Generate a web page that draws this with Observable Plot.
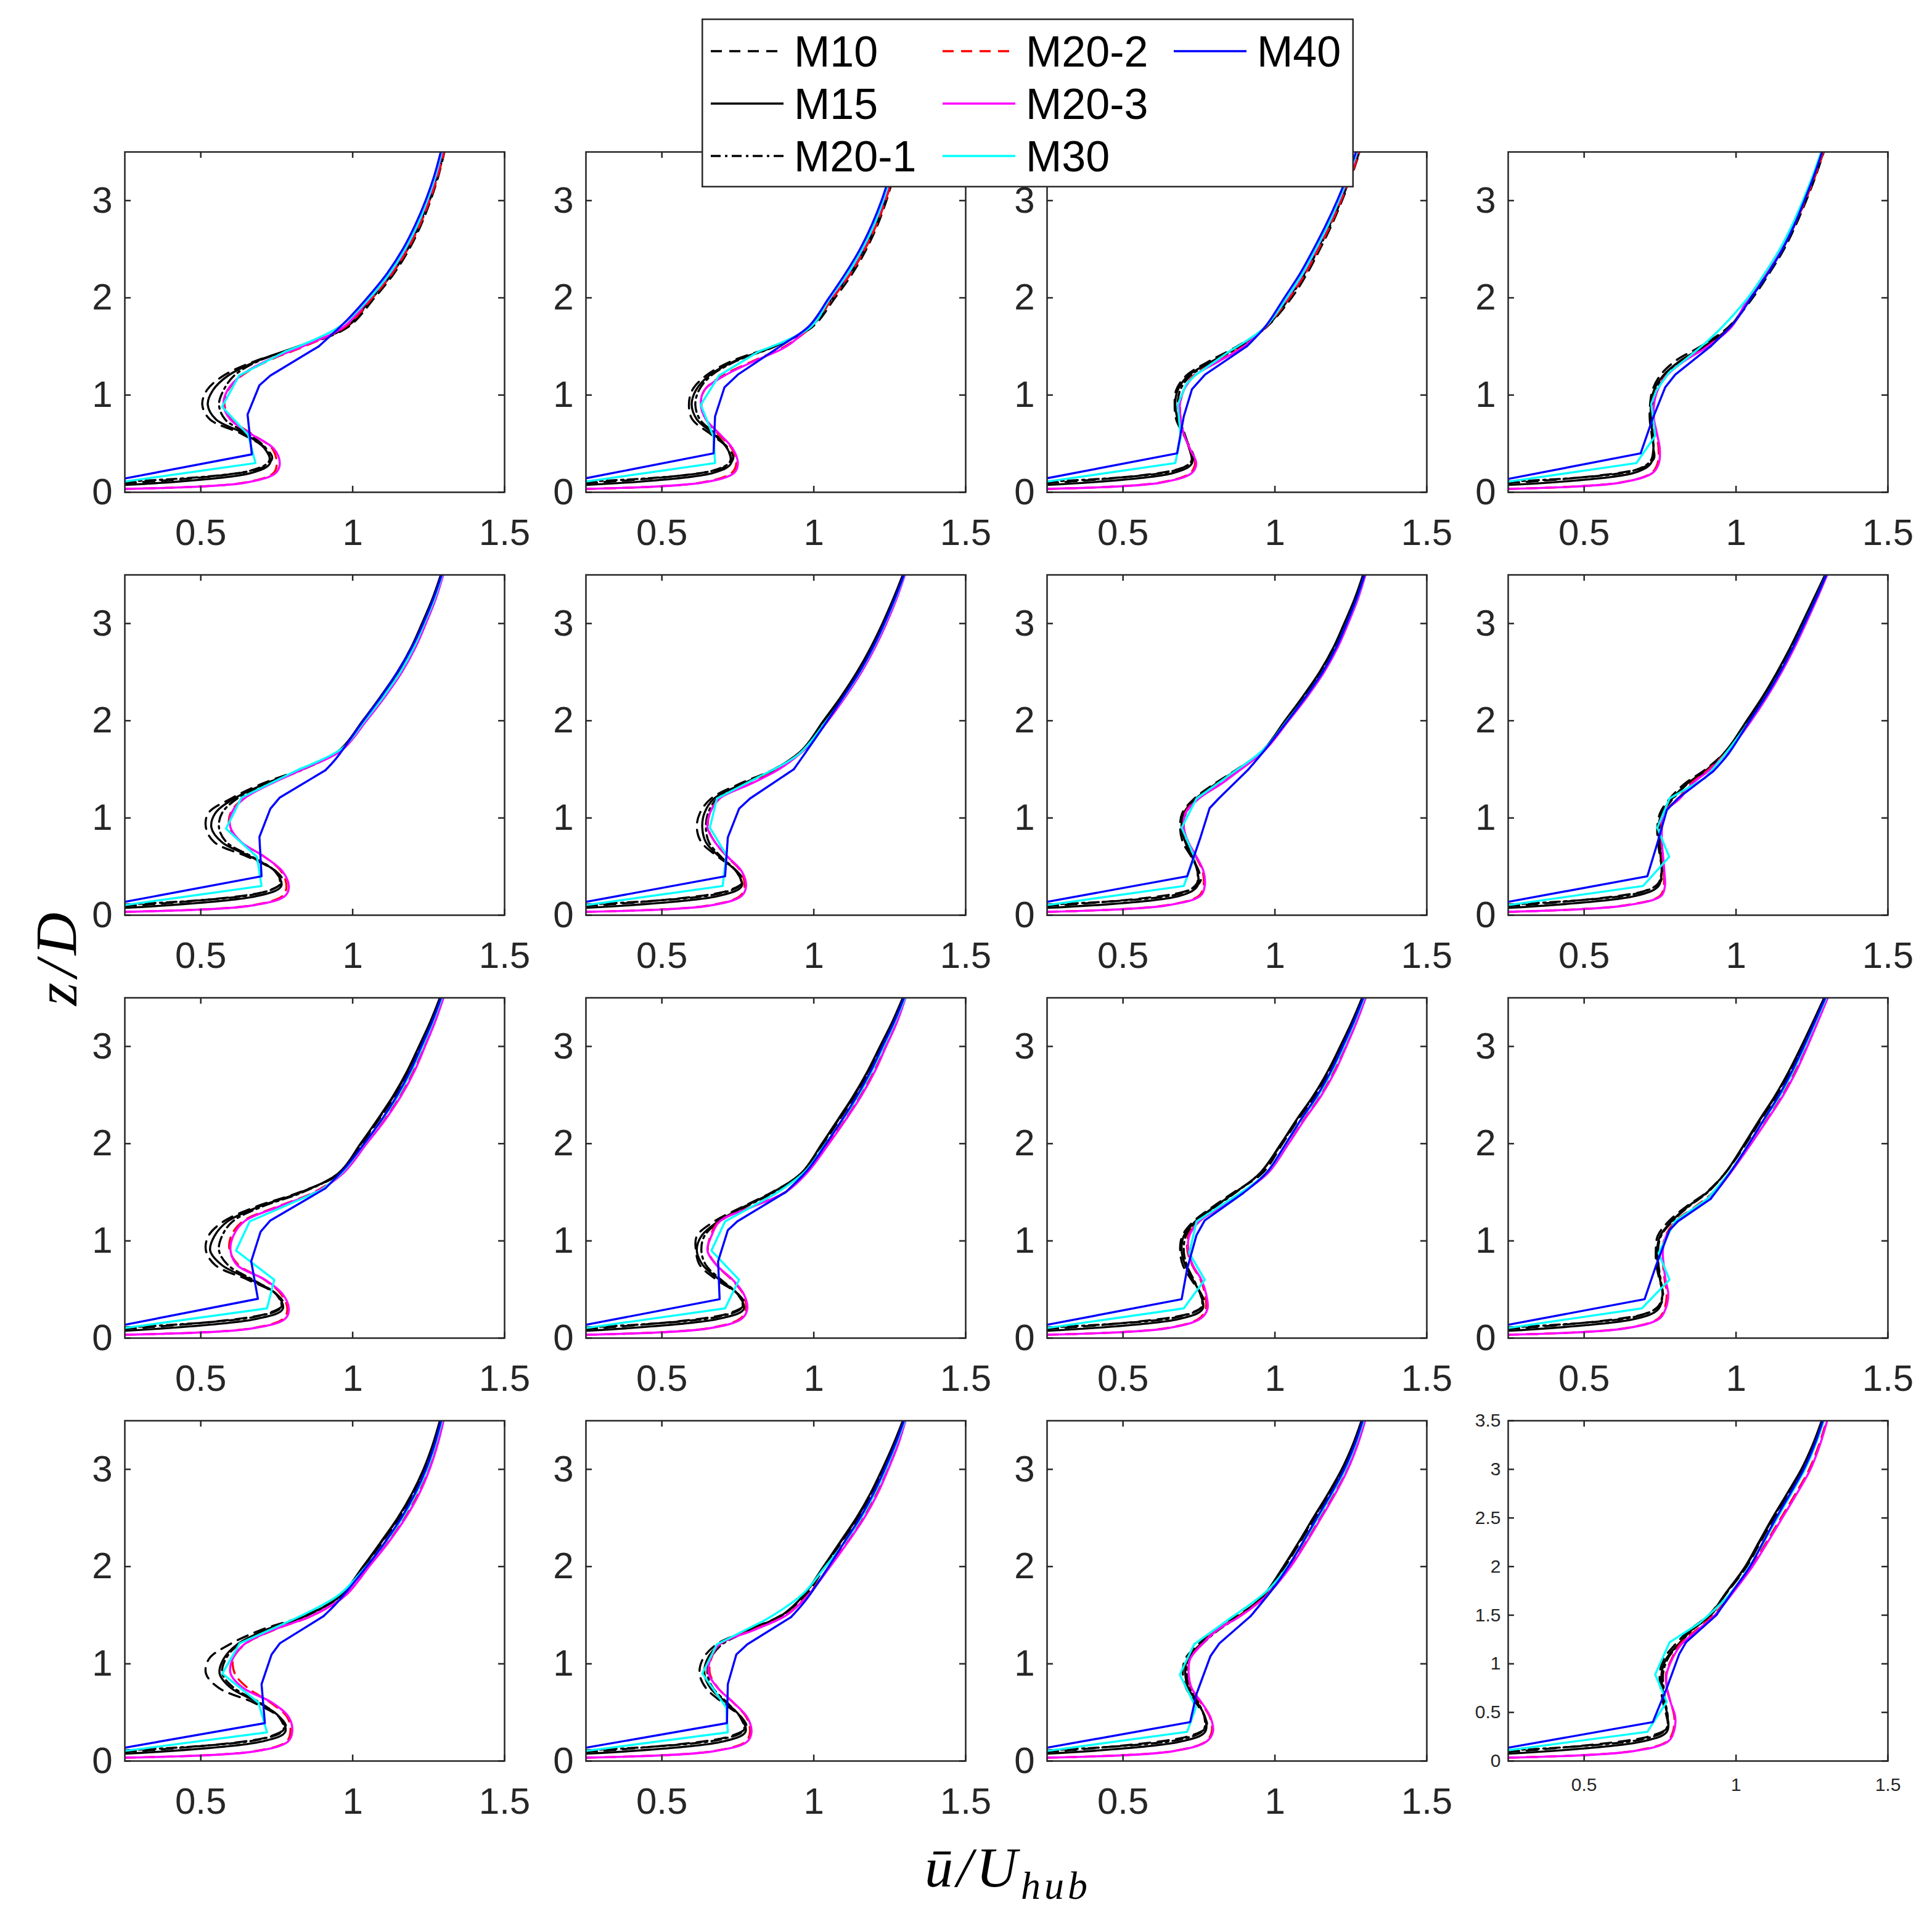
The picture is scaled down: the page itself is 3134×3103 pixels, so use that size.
<!DOCTYPE html>
<html>
<head>
<meta charset="utf-8">
<script src="https://cdn.jsdelivr.net/npm/d3@7"></script>
<script src="https://cdn.jsdelivr.net/npm/@observablehq/plot@0.6"></script>
<style>
  html, body { margin: 0; padding: 0; background: #fff; }
  #fig { position: relative; width: 3134px; height: 3103px; background: #fff; font-family: "Liberation Sans", Arial, Helvetica, sans-serif; }
</style>
</head>
<body>
<div id="fig"></div>
<script>
// ---------------- series definitions ----------------
const seriesNames  = ["M10", "M15", "M20-1", "M20-2", "M20-3", "M30", "M40"];
const seriesColors = ["#000000", "#000000", "#000000", "#ff0000", "#ff00ff", "#00ffff", "#0000ff"];
const seriesDash   = ["18,12", null, "16,7,4,7", "18,12", null, null, null];

// ---------------- axis ticks ----------------
const xDomain = [0.25, 1.5];
const yDomain = [0, 3.5];
const xTicks = [0.5, 1, 1.5];
const yTicks = [0, 1, 2, 3];
const yTicksFine = [0, 0.5, 1, 1.5, 2, 2.5, 3, 3.5];

// ---------------- heights (z/D) ----------------
const zM10  = [0.095, 0.25, 0.35, 0.45, 0.60, 0.75, 0.90, 1.05, 1.20, 1.35, 1.50, 1.70];
const zM15  = [0.075, 0.20, 0.30, 0.45, 0.60, 0.75, 0.90, 1.05, 1.20, 1.35, 1.50, 1.70];
const zM201 = [0.11, 0.22, 0.32, 0.45, 0.60, 0.75, 0.90, 1.05, 1.20, 1.35, 1.50, 1.70];
const zM202 = [0.035, 0.10, 0.20, 0.30, 0.45, 0.60, 0.75, 0.90, 1.05, 1.20, 1.35, 1.50, 1.70];
const zM203 = [0.035, 0.10, 0.20, 0.30, 0.45, 0.60, 0.75, 0.90, 1.05, 1.20, 1.35, 1.50, 1.70];
const zUpper = [2.00, 2.25, 2.50, 2.75, 3.00, 3.25, 3.50];

// ---------------- u/U_hub, lower part (row-major panels) ----------------
const uM10 = [
  [0.25, 0.70, 0.735, 0.715, 0.635, 0.53, 0.505, 0.52, 0.575, 0.68, 0.83, 0.985],
  [0.25, 0.70, 0.735, 0.72, 0.66, 0.60, 0.589, 0.60, 0.645, 0.73, 0.865, 0.995],
  [0.25, 0.695, 0.733, 0.722, 0.698, 0.675, 0.67, 0.675, 0.708, 0.785, 0.875, 0.972],
  [0.25, 0.69, 0.73, 0.728, 0.722, 0.716, 0.717, 0.725, 0.75, 0.80, 0.883, 0.975],
  [0.25, 0.72, 0.77, 0.748, 0.655, 0.545, 0.517, 0.525, 0.60, 0.70, 0.83, 0.962],
  [0.25, 0.715, 0.768, 0.748, 0.685, 0.63, 0.615, 0.625, 0.662, 0.755, 0.868, 0.968],
  [0.25, 0.71, 0.755, 0.75, 0.725, 0.697, 0.688, 0.695, 0.735, 0.80, 0.875, 0.965],
  [0.25, 0.70, 0.752, 0.757, 0.75, 0.743, 0.741, 0.75, 0.782, 0.83, 0.90, 0.97],
  [0.25, 0.715, 0.772, 0.75, 0.655, 0.548, 0.517, 0.525, 0.575, 0.68, 0.825, 0.962],
  [0.25, 0.715, 0.772, 0.752, 0.68, 0.625, 0.612, 0.615, 0.672, 0.765, 0.862, 0.965],
  [0.25, 0.715, 0.768, 0.758, 0.725, 0.697, 0.688, 0.695, 0.732, 0.795, 0.865, 0.96],
  [0.25, 0.70, 0.752, 0.76, 0.748, 0.738, 0.736, 0.742, 0.778, 0.835, 0.903, 0.965],
  [0.25, 0.725, 0.78, 0.76, 0.675, 0.56, 0.517, 0.527, 0.595, 0.70, 0.845, 0.962],
  [0.25, 0.72, 0.778, 0.762, 0.70, 0.645, 0.624, 0.635, 0.68, 0.785, 0.893, 0.972],
  [0.25, 0.71, 0.775, 0.77, 0.74, 0.708, 0.697, 0.705, 0.748, 0.805, 0.88, 0.965],
  [0.25, 0.71, 0.776, 0.772, 0.76, 0.752, 0.749, 0.762, 0.80, 0.848, 0.91, 0.962]
];
const uM15 = [
  [0.25, 0.668, 0.728, 0.71, 0.645, 0.55, 0.523, 0.54, 0.59, 0.685, 0.82, 0.98],
  [0.25, 0.67, 0.728, 0.715, 0.67, 0.615, 0.598, 0.612, 0.655, 0.74, 0.87, 0.99],
  [0.25, 0.668, 0.727, 0.718, 0.70, 0.68, 0.672, 0.68, 0.715, 0.795, 0.88, 0.97],
  [0.25, 0.665, 0.72, 0.728, 0.725, 0.72, 0.72, 0.73, 0.76, 0.815, 0.895, 0.98],
  [0.25, 0.69, 0.765, 0.745, 0.665, 0.57, 0.535, 0.548, 0.61, 0.71, 0.835, 0.958],
  [0.25, 0.69, 0.763, 0.745, 0.69, 0.645, 0.633, 0.64, 0.672, 0.765, 0.87, 0.962],
  [0.25, 0.688, 0.745, 0.745, 0.728, 0.705, 0.693, 0.70, 0.74, 0.805, 0.877, 0.962],
  [0.25, 0.672, 0.745, 0.755, 0.752, 0.748, 0.745, 0.755, 0.79, 0.838, 0.905, 0.97],
  [0.25, 0.688, 0.77, 0.75, 0.665, 0.57, 0.531, 0.545, 0.588, 0.69, 0.83, 0.955],
  [0.25, 0.69, 0.77, 0.75, 0.69, 0.635, 0.615, 0.63, 0.685, 0.77, 0.865, 0.96],
  [0.25, 0.69, 0.762, 0.755, 0.73, 0.705, 0.693, 0.70, 0.738, 0.80, 0.87, 0.952],
  [0.25, 0.672, 0.745, 0.758, 0.75, 0.743, 0.74, 0.75, 0.787, 0.84, 0.905, 0.965],
  [0.25, 0.70, 0.778, 0.76, 0.69, 0.60, 0.562, 0.575, 0.62, 0.715, 0.85, 0.96],
  [0.25, 0.70, 0.775, 0.76, 0.712, 0.66, 0.64, 0.65, 0.69, 0.79, 0.895, 0.965],
  [0.25, 0.69, 0.77, 0.77, 0.745, 0.715, 0.705, 0.712, 0.755, 0.81, 0.885, 0.962],
  [0.25, 0.69, 0.772, 0.775, 0.765, 0.758, 0.755, 0.77, 0.81, 0.855, 0.915, 0.96]
];
const uM201 = [
  [0.25, 0.66, 0.725, 0.715, 0.655, 0.58, 0.56, 0.575, 0.61, 0.69, 0.825, 0.98],
  [0.25, 0.665, 0.725, 0.715, 0.675, 0.625, 0.61, 0.622, 0.662, 0.745, 0.872, 0.99],
  [0.25, 0.665, 0.725, 0.718, 0.703, 0.685, 0.68, 0.688, 0.722, 0.80, 0.885, 0.972],
  [0.25, 0.66, 0.718, 0.728, 0.726, 0.722, 0.724, 0.735, 0.765, 0.82, 0.898, 0.98],
  [0.25, 0.685, 0.76, 0.745, 0.67, 0.585, 0.56, 0.57, 0.62, 0.715, 0.837, 0.958],
  [0.25, 0.685, 0.76, 0.745, 0.695, 0.655, 0.645, 0.652, 0.682, 0.77, 0.872, 0.962],
  [0.25, 0.685, 0.742, 0.745, 0.73, 0.71, 0.70, 0.707, 0.745, 0.808, 0.88, 0.962],
  [0.25, 0.668, 0.742, 0.755, 0.754, 0.75, 0.748, 0.758, 0.793, 0.84, 0.907, 0.97],
  [0.25, 0.68, 0.765, 0.748, 0.672, 0.59, 0.56, 0.57, 0.605, 0.70, 0.835, 0.955],
  [0.25, 0.685, 0.765, 0.75, 0.695, 0.645, 0.63, 0.64, 0.69, 0.775, 0.868, 0.96],
  [0.25, 0.685, 0.758, 0.755, 0.733, 0.71, 0.70, 0.707, 0.742, 0.803, 0.872, 0.952],
  [0.25, 0.668, 0.742, 0.758, 0.752, 0.745, 0.743, 0.753, 0.79, 0.843, 0.907, 0.965],
  [0.25, 0.69, 0.772, 0.758, 0.695, 0.61, 0.571, 0.582, 0.625, 0.718, 0.852, 0.96],
  [0.25, 0.69, 0.77, 0.758, 0.715, 0.668, 0.65, 0.66, 0.698, 0.795, 0.897, 0.965],
  [0.25, 0.685, 0.765, 0.768, 0.748, 0.72, 0.71, 0.718, 0.76, 0.815, 0.888, 0.962],
  [0.25, 0.685, 0.768, 0.775, 0.768, 0.762, 0.76, 0.775, 0.812, 0.857, 0.917, 0.962]
];
const uM202 = [
  [0.25, 0.645, 0.74, 0.75, 0.735, 0.668, 0.60, 0.578, 0.59, 0.635, 0.72, 0.84, 0.975],
  [0.25, 0.63, 0.73, 0.745, 0.73, 0.685, 0.645, 0.63, 0.64, 0.70, 0.80, 0.905, 0.99],
  [0.25, 0.622, 0.722, 0.737, 0.72, 0.70, 0.69, 0.688, 0.70, 0.732, 0.812, 0.895, 0.97],
  [0.25, 0.618, 0.722, 0.742, 0.745, 0.738, 0.73, 0.728, 0.74, 0.77, 0.828, 0.905, 0.982],
  [0.25, 0.665, 0.77, 0.782, 0.765, 0.71, 0.632, 0.595, 0.598, 0.64, 0.727, 0.832, 0.962],
  [0.25, 0.655, 0.758, 0.772, 0.76, 0.715, 0.675, 0.652, 0.658, 0.69, 0.79, 0.88, 0.965],
  [0.25, 0.638, 0.75, 0.765, 0.762, 0.74, 0.715, 0.70, 0.705, 0.745, 0.82, 0.885, 0.967],
  [0.25, 0.632, 0.75, 0.762, 0.762, 0.758, 0.755, 0.754, 0.76, 0.81, 0.85, 0.91, 0.975],
  [0.25, 0.665, 0.772, 0.785, 0.765, 0.71, 0.625, 0.595, 0.60, 0.638, 0.75, 0.873, 0.967],
  [0.25, 0.65, 0.758, 0.777, 0.768, 0.73, 0.68, 0.652, 0.66, 0.688, 0.795, 0.905, 0.975],
  [0.25, 0.638, 0.75, 0.772, 0.77, 0.755, 0.728, 0.712, 0.715, 0.748, 0.82, 0.892, 0.975],
  [0.25, 0.632, 0.744, 0.764, 0.772, 0.765, 0.76, 0.757, 0.768, 0.80, 0.865, 0.925, 0.98],
  [0.25, 0.675, 0.782, 0.795, 0.785, 0.73, 0.655, 0.612, 0.607, 0.645, 0.742, 0.87, 0.975],
  [0.25, 0.665, 0.776, 0.79, 0.778, 0.735, 0.685, 0.658, 0.662, 0.69, 0.80, 0.908, 0.978],
  [0.25, 0.66, 0.772, 0.792, 0.786, 0.756, 0.724, 0.716, 0.72, 0.758, 0.81, 0.888, 0.97],
  [0.25, 0.655, 0.772, 0.792, 0.797, 0.785, 0.773, 0.77, 0.788, 0.815, 0.87, 0.925, 0.98]
];
const uM203 = [
  [0.25, 0.65, 0.747, 0.76, 0.74, 0.665, 0.597, 0.575, 0.588, 0.632, 0.715, 0.835, 0.97],
  [0.25, 0.634, 0.738, 0.75, 0.733, 0.69, 0.645, 0.628, 0.64, 0.706, 0.805, 0.91, 0.985],
  [0.25, 0.627, 0.727, 0.741, 0.72, 0.70, 0.69, 0.687, 0.70, 0.736, 0.817, 0.898, 0.968],
  [0.25, 0.622, 0.726, 0.746, 0.749, 0.74, 0.73, 0.73, 0.742, 0.772, 0.83, 0.907, 0.985],
  [0.25, 0.67, 0.778, 0.79, 0.769, 0.71, 0.634, 0.598, 0.601, 0.643, 0.73, 0.835, 0.965],
  [0.25, 0.66, 0.763, 0.777, 0.763, 0.717, 0.675, 0.65, 0.658, 0.69, 0.792, 0.885, 0.968],
  [0.25, 0.643, 0.755, 0.769, 0.765, 0.742, 0.715, 0.70, 0.706, 0.75, 0.823, 0.888, 0.968],
  [0.25, 0.636, 0.754, 0.766, 0.764, 0.76, 0.756, 0.756, 0.762, 0.815, 0.855, 0.915, 0.978],
  [0.25, 0.67, 0.778, 0.79, 0.77, 0.712, 0.62, 0.598, 0.607, 0.643, 0.755, 0.877, 0.97],
  [0.25, 0.654, 0.763, 0.781, 0.77, 0.733, 0.68, 0.65, 0.663, 0.69, 0.797, 0.907, 0.978],
  [0.25, 0.643, 0.755, 0.778, 0.774, 0.758, 0.73, 0.715, 0.718, 0.751, 0.823, 0.895, 0.978],
  [0.25, 0.636, 0.748, 0.768, 0.777, 0.768, 0.762, 0.759, 0.77, 0.808, 0.87, 0.93, 0.982],
  [0.25, 0.679, 0.787, 0.801, 0.79, 0.735, 0.64, 0.598, 0.605, 0.643, 0.74, 0.87, 0.975],
  [0.25, 0.669, 0.781, 0.795, 0.781, 0.736, 0.684, 0.654, 0.66, 0.69, 0.805, 0.91, 0.98],
  [0.25, 0.663, 0.775, 0.796, 0.788, 0.759, 0.726, 0.716, 0.721, 0.76, 0.812, 0.891, 0.972],
  [0.25, 0.659, 0.776, 0.795, 0.80, 0.785, 0.772, 0.772, 0.79, 0.82, 0.875, 0.93, 0.982]
];

// ---------------- coarse profiles (lower vertices per panel) ----------------
const zM30 = [
  [0.11, 0.30, 0.59, 0.88, 1.20, 1.45, 1.70],
  [0.11, 0.30, 0.57, 0.90, 1.20, 1.45, 1.70],
  [0.11, 0.30, 0.57, 0.90, 1.11, 1.20, 1.45, 1.70],
  [0.109, 0.30, 0.58, 0.91, 1.05, 1.23, 1.61],
  [0.104, 0.30, 0.60, 0.89, 1.21, 1.50, 1.72],
  [0.104, 0.30, 0.62, 0.90, 1.20, 1.42, 1.66],
  [0.104, 0.30, 0.60, 0.90, 1.20, 1.50, 1.72],
  [0.104, 0.30, 0.60, 0.90, 1.20, 1.41, 1.70],
  [0.104, 0.306, 0.60, 0.90, 1.20, 1.52, 1.71],
  [0.104, 0.306, 0.60, 0.90, 1.20, 1.48, 1.71],
  [0.104, 0.306, 0.60, 0.875, 1.20, 1.50, 1.71],
  [0.104, 0.306, 0.60, 0.875, 1.20, 1.43, 1.71],
  [0.104, 0.295, 0.60, 0.90, 1.21, 1.45, 1.71],
  [0.104, 0.295, 0.55, 0.90, 1.20, 1.45, 1.71],
  [0.104, 0.30, 0.55, 0.89, 1.20, 1.48, 1.75],
  [0.111, 0.30, 0.61, 0.89, 1.22, 1.42, 1.70]
];
const uM30 = [
  [0.25, 0.68, 0.656, 0.57, 0.626, 0.78, 0.955],
  [0.25, 0.675, 0.67, 0.628, 0.688, 0.82, 0.99],
  [0.25, 0.672, 0.69, 0.68, 0.708, 0.736, 0.85, 0.968],
  [0.25, 0.672, 0.734, 0.721, 0.738, 0.779, 0.925],
  [0.25, 0.70, 0.685, 0.583, 0.634, 0.823, 0.967],
  [0.25, 0.70, 0.712, 0.658, 0.681, 0.817, 0.952],
  [0.25, 0.70, 0.735, 0.693, 0.742, 0.877, 0.968],
  [0.25, 0.694, 0.78, 0.741, 0.781, 0.898, 0.975],
  [0.25, 0.718, 0.742, 0.616, 0.661, 0.895, 0.967],
  [0.25, 0.708, 0.754, 0.663, 0.708, 0.871, 0.97],
  [0.25, 0.70, 0.769, 0.718, 0.742, 0.89, 0.975],
  [0.25, 0.69, 0.781, 0.745, 0.799, 0.905, 0.98],
  [0.25, 0.718, 0.69, 0.571, 0.628, 0.80, 0.955],
  [0.25, 0.717, 0.712, 0.633, 0.681, 0.84, 0.961],
  [0.25, 0.711, 0.74, 0.687, 0.734, 0.858, 0.974],
  [0.25, 0.708, 0.772, 0.734, 0.781, 0.88, 0.975]
];
const zM40 = [
  [0.142, 0.39, 0.80, 1.10, 1.20, 1.50, 1.77],
  [0.144, 0.40, 0.78, 1.08, 1.21, 1.55, 1.71],
  [0.144, 0.40, 0.78, 1.06, 1.21, 1.50, 1.71],
  [0.137, 0.40, 0.76, 1.08, 1.21, 1.50, 1.75],
  [0.137, 0.40, 0.805, 1.095, 1.21, 1.49, 1.61],
  [0.137, 0.40, 0.80, 1.095, 1.20, 1.50, 1.66],
  [0.137, 0.40, 0.80, 1.10, 1.20, 1.50, 1.70],
  [0.137, 0.40, 0.74, 1.08, 1.20, 1.48, 1.66],
  [0.137, 0.404, 0.79, 1.095, 1.21, 1.54, 1.75],
  [0.137, 0.40, 0.79, 1.11, 1.20, 1.50, 1.73],
  [0.137, 0.40, 0.71, 1.06, 1.21, 1.49, 1.71],
  [0.137, 0.40, 0.74, 1.11, 1.20, 1.43, 1.70],
  [0.137, 0.39, 0.79, 1.095, 1.21, 1.49, 1.63],
  [0.137, 0.39, 0.79, 1.095, 1.20, 1.48, 1.66],
  [0.137, 0.40, 0.69, 1.08, 1.21, 1.49, 1.80],
  [0.137, 0.40, 0.75, 1.10, 1.22, 1.50, 1.75]
];
const uM40 = [
  [0.25, 0.668, 0.654, 0.693, 0.729, 0.888, 0.981],
  [0.25, 0.67, 0.675, 0.706, 0.75, 0.913, 0.985],
  [0.25, 0.678, 0.70, 0.727, 0.77, 0.907, 0.97],
  [0.25, 0.686, 0.726, 0.767, 0.80, 0.916, 0.995],
  [0.25, 0.70, 0.693, 0.729, 0.76, 0.91, 0.945],
  [0.25, 0.708, 0.717, 0.754, 0.79, 0.934, 0.97],
  [0.25, 0.711, 0.755, 0.785, 0.815, 0.913, 0.967],
  [0.25, 0.708, 0.741, 0.772, 0.808, 0.925, 0.975],
  [0.25, 0.688, 0.666, 0.697, 0.729, 0.91, 0.975],
  [0.25, 0.69, 0.685, 0.717, 0.748, 0.907, 0.98],
  [0.25, 0.693, 0.711, 0.742, 0.769, 0.895, 0.975],
  [0.25, 0.699, 0.736, 0.781, 0.808, 0.916, 0.98],
  [0.25, 0.711, 0.70, 0.733, 0.76, 0.904, 0.949],
  [0.25, 0.714, 0.717, 0.745, 0.781, 0.925, 0.975],
  [0.25, 0.721, 0.742, 0.788, 0.817, 0.92, 1.0],
  [0.25, 0.726, 0.772, 0.813, 0.835, 0.935, 0.99]
];

// ---------------- u/U_hub, upper part at zUpper ----------------
const uM10Up = [
  [1.072, 1.136, 1.186, 1.225, 1.256, 1.282, 1.302],
  [1.07, 1.127, 1.173, 1.21, 1.239, 1.263, 1.284],
  [1.055, 1.106, 1.148, 1.187, 1.221, 1.252, 1.279],
  [1.055, 1.109, 1.158, 1.197, 1.231, 1.262, 1.289],
  [1.038, 1.097, 1.152, 1.197, 1.233, 1.267, 1.295],
  [1.037, 1.095, 1.147, 1.192, 1.231, 1.266, 1.297],
  [1.038, 1.097, 1.152, 1.197, 1.233, 1.267, 1.294],
  [1.04, 1.093, 1.14, 1.183, 1.222, 1.26, 1.297],
  [1.031, 1.087, 1.14, 1.185, 1.223, 1.26, 1.291],
  [1.032, 1.085, 1.137, 1.183, 1.223, 1.263, 1.297],
  [1.025, 1.077, 1.133, 1.18, 1.22, 1.258, 1.291],
  [1.033, 1.083, 1.135, 1.18, 1.22, 1.258, 1.294],
  [1.039, 1.097, 1.153, 1.20, 1.238, 1.268, 1.291],
  [1.037, 1.091, 1.145, 1.191, 1.23, 1.266, 1.297],
  [1.033, 1.083, 1.131, 1.18, 1.225, 1.261, 1.289],
  [1.035, 1.08, 1.125, 1.173, 1.22, 1.257, 1.286]
];
const uM15Up = [
  [1.062, 1.127, 1.178, 1.218, 1.25, 1.277, 1.298],
  [1.06, 1.118, 1.165, 1.203, 1.233, 1.258, 1.28],
  [1.045, 1.097, 1.14, 1.18, 1.215, 1.247, 1.275],
  [1.045, 1.10, 1.15, 1.19, 1.225, 1.257, 1.285],
  [1.033, 1.092, 1.147, 1.192, 1.228, 1.262, 1.29],
  [1.032, 1.09, 1.142, 1.187, 1.226, 1.261, 1.293],
  [1.033, 1.092, 1.147, 1.192, 1.228, 1.262, 1.29],
  [1.035, 1.088, 1.135, 1.178, 1.217, 1.255, 1.293],
  [1.026, 1.082, 1.135, 1.18, 1.218, 1.255, 1.287],
  [1.027, 1.08, 1.132, 1.178, 1.218, 1.258, 1.293],
  [1.02, 1.072, 1.128, 1.175, 1.215, 1.253, 1.287],
  [1.028, 1.078, 1.13, 1.175, 1.215, 1.253, 1.29],
  [1.034, 1.092, 1.148, 1.195, 1.233, 1.263, 1.287],
  [1.032, 1.086, 1.14, 1.186, 1.225, 1.261, 1.293],
  [1.028, 1.078, 1.126, 1.175, 1.22, 1.256, 1.285],
  [1.03, 1.075, 1.12, 1.168, 1.215, 1.252, 1.282]
];
const uM201Up = [
  [1.065, 1.13, 1.181, 1.221, 1.253, 1.28, 1.301],
  [1.063, 1.121, 1.168, 1.206, 1.236, 1.261, 1.283],
  [1.048, 1.10, 1.143, 1.183, 1.218, 1.25, 1.278],
  [1.048, 1.103, 1.153, 1.193, 1.228, 1.26, 1.288],
  [1.035, 1.094, 1.149, 1.194, 1.23, 1.264, 1.292],
  [1.034, 1.092, 1.144, 1.189, 1.228, 1.263, 1.295],
  [1.035, 1.094, 1.149, 1.194, 1.23, 1.264, 1.292],
  [1.037, 1.09, 1.137, 1.18, 1.219, 1.257, 1.295],
  [1.028, 1.084, 1.137, 1.182, 1.22, 1.257, 1.289],
  [1.029, 1.082, 1.134, 1.18, 1.22, 1.26, 1.295],
  [1.022, 1.074, 1.13, 1.177, 1.217, 1.255, 1.289],
  [1.03, 1.08, 1.132, 1.177, 1.217, 1.255, 1.292],
  [1.036, 1.094, 1.15, 1.197, 1.235, 1.265, 1.289],
  [1.034, 1.088, 1.142, 1.188, 1.227, 1.263, 1.295],
  [1.03, 1.08, 1.128, 1.177, 1.222, 1.258, 1.287],
  [1.032, 1.077, 1.122, 1.17, 1.217, 1.254, 1.284]
];
const uM202Up = [
  [1.065, 1.13, 1.181, 1.221, 1.253, 1.28, 1.301],
  [1.063, 1.121, 1.168, 1.206, 1.236, 1.261, 1.283],
  [1.048, 1.10, 1.143, 1.183, 1.218, 1.25, 1.278],
  [1.048, 1.103, 1.153, 1.193, 1.228, 1.26, 1.288],
  [1.042, 1.104, 1.159, 1.203, 1.238, 1.27, 1.296],
  [1.044, 1.102, 1.154, 1.198, 1.236, 1.269, 1.298],
  [1.042, 1.104, 1.159, 1.203, 1.238, 1.27, 1.296],
  [1.047, 1.10, 1.147, 1.189, 1.227, 1.263, 1.298],
  [1.042, 1.104, 1.157, 1.20, 1.235, 1.268, 1.297],
  [1.046, 1.102, 1.154, 1.198, 1.235, 1.271, 1.30],
  [1.041, 1.094, 1.15, 1.195, 1.232, 1.266, 1.297],
  [1.047, 1.10, 1.152, 1.195, 1.232, 1.266, 1.30],
  [1.053, 1.114, 1.17, 1.215, 1.25, 1.276, 1.297],
  [1.051, 1.108, 1.162, 1.206, 1.242, 1.274, 1.30],
  [1.048, 1.10, 1.148, 1.195, 1.237, 1.269, 1.295],
  [1.05, 1.10, 1.148, 1.196, 1.241, 1.273, 1.298]
];
const uM203Up = [
  [1.058, 1.123, 1.174, 1.214, 1.247, 1.274, 1.295],
  [1.056, 1.114, 1.161, 1.199, 1.23, 1.255, 1.277],
  [1.041, 1.093, 1.136, 1.176, 1.212, 1.244, 1.272],
  [1.041, 1.096, 1.146, 1.186, 1.222, 1.254, 1.282],
  [1.045, 1.107, 1.162, 1.206, 1.241, 1.273, 1.298],
  [1.047, 1.105, 1.157, 1.201, 1.239, 1.272, 1.30],
  [1.045, 1.107, 1.162, 1.206, 1.241, 1.273, 1.298],
  [1.05, 1.103, 1.15, 1.192, 1.23, 1.266, 1.30],
  [1.046, 1.108, 1.161, 1.204, 1.238, 1.271, 1.299],
  [1.05, 1.106, 1.158, 1.202, 1.238, 1.274, 1.302],
  [1.045, 1.098, 1.154, 1.199, 1.235, 1.269, 1.299],
  [1.05, 1.104, 1.156, 1.199, 1.235, 1.269, 1.302],
  [1.054, 1.118, 1.174, 1.219, 1.253, 1.279, 1.299],
  [1.054, 1.112, 1.166, 1.21, 1.245, 1.277, 1.302],
  [1.052, 1.104, 1.152, 1.199, 1.24, 1.272, 1.297],
  [1.054, 1.104, 1.152, 1.20, 1.245, 1.276, 1.30]
];
const uM30Up = [
  [1.056, 1.121, 1.172, 1.213, 1.245, 1.272, 1.293],
  [1.054, 1.112, 1.159, 1.198, 1.228, 1.253, 1.275],
  [1.039, 1.091, 1.134, 1.175, 1.21, 1.242, 1.27],
  [1.039, 1.094, 1.144, 1.185, 1.22, 1.252, 1.28],
  [1.04, 1.102, 1.157, 1.201, 1.236, 1.269, 1.295],
  [1.042, 1.10, 1.152, 1.196, 1.234, 1.268, 1.298],
  [1.04, 1.102, 1.157, 1.201, 1.236, 1.269, 1.295],
  [1.045, 1.098, 1.145, 1.187, 1.225, 1.262, 1.297],
  [1.039, 1.098, 1.151, 1.194, 1.23, 1.264, 1.294],
  [1.039, 1.096, 1.148, 1.192, 1.23, 1.267, 1.30],
  [1.037, 1.088, 1.144, 1.189, 1.227, 1.262, 1.294],
  [1.043, 1.094, 1.146, 1.189, 1.227, 1.262, 1.297],
  [1.044, 1.108, 1.164, 1.209, 1.245, 1.272, 1.294],
  [1.038, 1.102, 1.156, 1.20, 1.237, 1.27, 1.30],
  [1.042, 1.094, 1.142, 1.189, 1.232, 1.265, 1.292],
  [1.044, 1.091, 1.136, 1.182, 1.227, 1.261, 1.289]
];
const uM40Up = [
  [1.048, 1.113, 1.165, 1.206, 1.24, 1.268, 1.29],
  [1.05, 1.104, 1.152, 1.191, 1.223, 1.249, 1.272],
  [1.031, 1.083, 1.127, 1.168, 1.205, 1.238, 1.267],
  [1.05, 1.105, 1.153, 1.192, 1.225, 1.256, 1.283],
  [1.035, 1.094, 1.147, 1.194, 1.232, 1.265, 1.293],
  [1.045, 1.098, 1.15, 1.194, 1.232, 1.266, 1.297],
  [1.042, 1.102, 1.157, 1.201, 1.236, 1.268, 1.295],
  [1.045, 1.098, 1.145, 1.187, 1.225, 1.262, 1.297],
  [1.038, 1.096, 1.147, 1.19, 1.226, 1.261, 1.291],
  [1.041, 1.094, 1.144, 1.188, 1.226, 1.264, 1.297],
  [1.036, 1.086, 1.14, 1.185, 1.223, 1.259, 1.291],
  [1.043, 1.092, 1.142, 1.185, 1.223, 1.259, 1.294],
  [1.046, 1.106, 1.16, 1.205, 1.241, 1.269, 1.291],
  [1.049, 1.10, 1.152, 1.196, 1.233, 1.267, 1.297],
  [1.044, 1.092, 1.138, 1.185, 1.228, 1.262, 1.289],
  [1.046, 1.089, 1.132, 1.178, 1.223, 1.258, 1.286]
];

// ---------------- layout ----------------
const PW = 616, PH = 552;
const colX = [202, 950, 1698, 2446];
const rowY = [246, 932, 1618, 2304];
const ML = 130, MR = 70, MT = 12, MB = 120;
const tickLen = 10;
const axisColor = "#262626";
const coarseBreak = 1.56;   // coarse profiles: straight segments below, smooth above

const zLow = [zM10, zM15, zM201, zM202, zM203];
const uLow = [uM10, uM15, uM201, uM202, uM203];
const uUp  = [uM10Up, uM15Up, uM201Up, uM202Up, uM203Up, uM30Up, uM40Up];

function seriesPoints(s, p) {
  let zs, us;
  if (s < 5) { zs = zLow[s]; us = uLow[s][p]; }
  else if (s === 5) { zs = zM30[p]; us = uM30[p]; }
  else { zs = zM40[p]; us = uM40[p]; }
  const pts = zs.map((z, i) => ({u: us[i], z}));
  zUpper.forEach((z, i) => pts.push({u: uUp[s][p][i], z}));
  return pts.filter(d => d.u != null);
}

const fig = document.getElementById("fig");

for (let p = 0; p < 16; p++) {
  const r = Math.floor(p / 4), c = p % 4;
  const fine = (p === 15);
  const yt = fine ? yTicksFine : yTicks;
  const fs = fine ? 30 : 60;
  const marks = [];
  for (let s = 0; s < 7; s++) {
    const pts = seriesPoints(s, p);
    const style = {
      x: "u", y: "z",
      stroke: seriesColors[s],
      strokeWidth: 3.4,
      strokeDasharray: seriesDash[s] || undefined,
      strokeLinejoin: "round",
      clip: true
    };
    if (s < 5) {
      marks.push(Plot.line(pts, {...style, curve: "catmull-rom"}));
    } else {
      let k = 0;
      pts.forEach((d, i) => { if (d.z <= coarseBreak) k = i; });
      marks.push(Plot.line(pts.slice(0, k + 1), {...style, curve: "linear"}));
      marks.push(Plot.line(pts.slice(k), {...style, curve: "catmull-rom"}));
    }
  }
  marks.push(Plot.frame({stroke: axisColor, strokeWidth: 2.5}));
  marks.push(Plot.tickX(xTicks, {x: d => d, insetTop: PH - tickLen, stroke: axisColor, strokeWidth: 2.5}));
  marks.push(Plot.tickX(xTicks, {x: d => d, insetBottom: PH - tickLen, stroke: axisColor, strokeWidth: 2.5}));
  marks.push(Plot.tickY(yt, {y: d => d, insetRight: PW - tickLen, stroke: axisColor, strokeWidth: 2.5}));
  marks.push(Plot.tickY(yt, {y: d => d, insetLeft: PW - tickLen, stroke: axisColor, strokeWidth: 2.5}));
  marks.push(Plot.axisX({ticks: xTicks, anchor: "bottom", tickSize: 0, tickPadding: fine ? 27 : 43,
    fontSize: fs, tickFormat: d => String(d), label: null, color: axisColor}));
  marks.push(Plot.axisY({ticks: yt, anchor: "left", tickSize: 0, tickPadding: fine ? 12 : 20,
    fontSize: fs, tickFormat: d => String(d), label: null, color: axisColor}));

  const svg = Plot.plot({
    width: PW + ML + MR,
    height: PH + MT + MB,
    marginLeft: ML, marginRight: MR, marginTop: MT, marginBottom: MB,
    x: {domain: xDomain},
    y: {domain: yDomain},
    style: "background: transparent; overflow: visible; font-family: 'Liberation Sans', Arial, Helvetica, sans-serif; max-width: none;",
    marks
  });
  svg.style.position = "absolute";
  svg.style.left = (colX[c] - ML) + "px";
  svg.style.top = (rowY[r] - MT) + "px";
  fig.appendChild(svg);
}

// ---------------- axis titles ----------------
const over = d3.select(fig).append("svg")
  .attr("width", 3134).attr("height", 3103)
  .style("position", "absolute").style("left", "0px").style("top", "0px")
  .style("pointer-events", "none").style("overflow", "visible");

over.append("text")
  .attr("transform", "translate(124,1551) rotate(-90)")
  .attr("text-anchor", "middle")
  .style("font-family", "'Liberation Serif', 'Times New Roman', serif")
  .style("font-style", "italic")
  .style("font-size", "96px")
  .style("letter-spacing", "9px")
  .attr("fill", "#000")
  .text("z/D");

const xl = over.append("text")
  .attr("x", 1635).attr("y", 3060)
  .attr("text-anchor", "middle")
  .style("font-family", "'Liberation Serif', 'Times New Roman', serif")
  .style("font-style", "italic")
  .style("font-size", "92px")
  .style("letter-spacing", "6px")
  .attr("fill", "#000");
xl.append("tspan").text("\u016B/U");
xl.append("tspan").attr("dy", "20").style("font-size", "64px").text("hub");

// ---------------- legend ----------------
const LX = 1138, LY = 30, LW = 1058, LH = 274;
const leg = d3.select(fig).append("svg")
  .attr("width", LW).attr("height", LH)
  .style("position", "absolute").style("left", LX + "px").style("top", LY + "px")
  .style("overflow", "visible");
leg.append("rect").attr("x", 1.25).attr("y", 1.25).attr("width", LW - 2.5).attr("height", LH - 2.5)
  .attr("fill", "#fff").attr("stroke", axisColor).attr("stroke-width", 2.5);
const legColX = [15, 391, 766];
const legRowY = [53, 138, 223];
seriesNames.forEach((name, i) => {
  const col = Math.floor(i / 3), row = i % 3;
  const x0 = legColX[col], y0 = legRowY[row];
  leg.append("line").attr("x1", x0).attr("x2", x0 + 118).attr("y1", y0).attr("y2", y0)
    .attr("stroke", seriesColors[i]).attr("stroke-width", 3.4)
    .attr("stroke-dasharray", seriesDash[i] || null);
  leg.append("text").attr("x", x0 + 135).attr("y", y0).attr("dy", "0.36em")
    .style("font-family", "'Liberation Sans', Arial, Helvetica, sans-serif")
    .style("font-size", "70px").attr("fill", "#000").text(name);
});
</script>
</body>
</html>
